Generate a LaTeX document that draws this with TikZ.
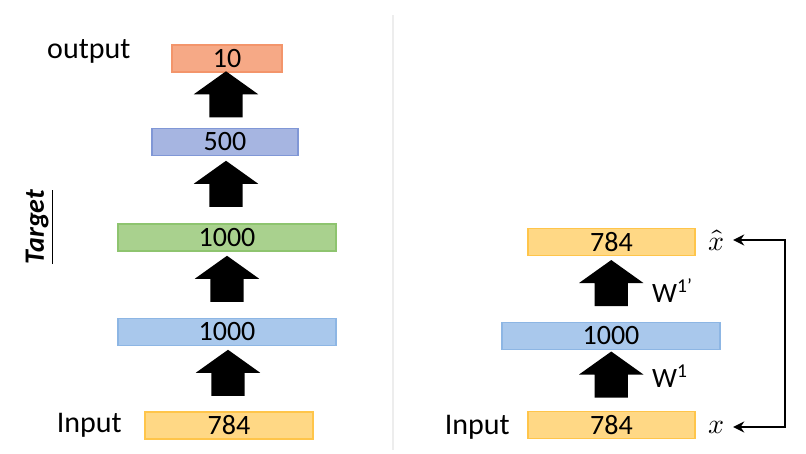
\documentclass[tikz,border=0pt]{standalone}
\usepackage{unicode-math}
\setmainfont{Carlito}
\usetikzlibrary{shapes.arrows,calc,arrows.meta}

\definecolor{fillorange}{HTML}{F6A986}
\definecolor{edgeorange}{HTML}{F3956B}
\definecolor{fillpurple}{HTML}{A6B5E1}
\definecolor{edgepurple}{HTML}{8097D6}
\definecolor{fillgreen}{HTML}{A9D18E}
\definecolor{edgegreen}{HTML}{8EC46F}
\definecolor{fillblue}{HTML}{A9C8EC}
\definecolor{edgeblue}{HTML}{8DB6E4}
\definecolor{fillyellow}{HTML}{FFD885}
\definecolor{edgeyellow}{HTML}{FFC54A}

\begin{document}
\begin{tikzpicture}[x=1pt,y=1pt,
    layer/.style 2 args={fill=#1, draw=#2, line width=1.2pt, minimum height=27pt,
        inner sep=0pt, font=\fontsize{28}{30}\selectfont},
    uparrow/.style={single arrow, fill=black, draw=none, rotate=90, inner xsep=0pt,
        inner ysep=16.5pt, minimum height=46pt, single arrow head extend=15.5pt,
        single arrow tip angle=109},
    lbl/.style={inner sep=0pt, font=\fontsize{30}{32}\selectfont},
    wlbl/.style={inner sep=0pt, anchor=base west, font=\fontsize{28}{30}\selectfont}]
    \useasboundingbox (0,0) rectangle (806,454);
    \draw[line width=2pt, black!7] (393,4) -- (393,439);

    % classifier
    \node[layer={fillyellow}{edgeyellow}, minimum width=168pt] (lin) at (229,28.5) {784};
    \node[layer={fillblue}{edgeblue}, minimum width=218pt] (lh1) at (227,122) {1000};
    \node[layer={fillgreen}{edgegreen}, minimum width=218pt] (lh2) at (227,216.5) {1000};
    \node[layer={fillpurple}{edgepurple}, minimum width=146pt] (lh3) at (225,312) {500};
    \node[layer={fillorange}{edgeorange}, minimum width=110pt] (lout) at (227,395.5) {10};
    \foreach \a/\b in {lin/lh1, lh1/lh2, lh2/lh3, lh3/lout}
        \node[uparrow] (\a-\b) at ($(\a.north)!.5!(\b.south)$) {};

    \node[lbl, anchor=base east] (inlabel) at (122,21) {Input};
    \node[lbl, anchor=base west] (outlabel) at (47,395) {output};
    \node[inner sep=0pt, rotate=90, font=\fontsize{28}{30}\selectfont\bfseries\itshape]
        (target) at (40,227) {\underline{Target}};

    % auto-encoder
    \node[layer={fillyellow}{edgeyellow}, minimum width=167pt] (rin) at (611.5,29) {784};
    \node[layer={fillblue}{edgeblue}, minimum width=218pt] (rh) at (611,118) {1000};
    \node[layer={fillyellow}{edgeyellow}, minimum width=167pt] (rout) at (611.5,212) {784};
    \node[uparrow] (rin-rh) at ($(rin.north)!.5!(rh.south)$) {};
    \node[uparrow] (rh-rout) at ($(rh.north)!.5!(rout.south)$) {};
    \node[wlbl] (w1) at (652,66) {W\textsuperscript{1}};
    \node[wlbl] (w1t) at (652,151) {W\textsuperscript{1’}};

    \node[lbl, anchor=base east] (rinlabel) at (510,19) {Input};
    \node[inner sep=2pt, font=\fontsize{28}{30}\selectfont] (x) at (716,27) {$x$};
    \node[inner sep=2pt, font=\fontsize{28}{30}\selectfont] (xhat) at (716,214) {$\hat{x}$};
    \coordinate (loop) at (785,120);
    \draw[line width=2.2pt, {Stealth[length=11pt,width=11pt]}-{Stealth[length=11pt,width=11pt]},
        shorten <=7pt, shorten >=7pt] (xhat.east) -| (loop) |- (x.east);
\end{tikzpicture}
\end{document}
